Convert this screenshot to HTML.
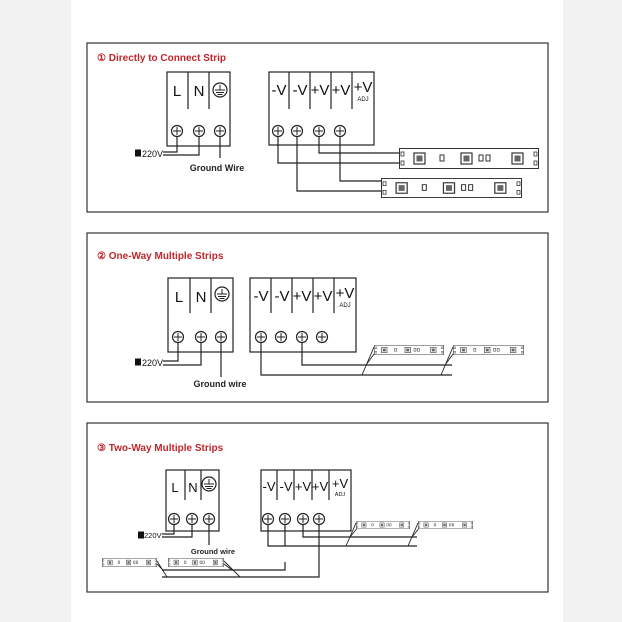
<!DOCTYPE html>
<html><head><meta charset="utf-8"><style>
html,body{margin:0;padding:0;background:#f2f2f2;}
svg{display:block;}
text{font-family:"Liberation Sans",sans-serif;}
</style></head><body>
<svg width="622" height="622" viewBox="0 0 622 622" xmlns="http://www.w3.org/2000/svg">
<defs>
<symbol id="strip" viewBox="0 0 140 21" preserveAspectRatio="none">
<rect x="0.5" y="0.5" width="139" height="20" fill="#fff" stroke="#333" stroke-width="1"/>
<rect x="2" y="4" width="3" height="4" fill="none" stroke="#333" stroke-width="0.8"/>
<rect x="2" y="13" width="3" height="4" fill="none" stroke="#333" stroke-width="0.8"/>
<rect x="15" y="5" width="11" height="11" fill="none" stroke="#333" stroke-width="1.2"/>
<rect x="17.5" y="7.5" width="6" height="6" fill="#666"/>
<rect x="41" y="7" width="4" height="6" fill="none" stroke="#333" stroke-width="1"/>
<rect x="62" y="5" width="11" height="11" fill="none" stroke="#333" stroke-width="1.2"/>
<rect x="64.5" y="7.5" width="6" height="6" fill="#666"/>
<rect x="80" y="7" width="4" height="6" fill="none" stroke="#333" stroke-width="1"/>
<rect x="87" y="7" width="4" height="6" fill="none" stroke="#333" stroke-width="1"/>
<rect x="113" y="5" width="11" height="11" fill="none" stroke="#333" stroke-width="1.2"/>
<rect x="115.5" y="7.5" width="6" height="6" fill="#666"/>
<rect x="135" y="4" width="3" height="4" fill="none" stroke="#333" stroke-width="0.8"/>
<rect x="135" y="13" width="3" height="4" fill="none" stroke="#333" stroke-width="0.8"/>
</symbol>
<g id="gnd"><circle cx="0" cy="0" r="7" fill="#fff" stroke="#222" stroke-width="1.2"/><line x1="-5" y1="0" x2="5" y2="0" stroke="#222"/><line x1="-4" y1="2.5" x2="4" y2="2.5" stroke="#222"/><line x1="-2.5" y1="4.5" x2="2.5" y2="4.5" stroke="#222"/><line x1="0" y1="-5" x2="0" y2="0" stroke="#222"/></g>
<g id="term"><circle cx="0" cy="0" r="5.5" fill="#fff" stroke="#222" stroke-width="1.2"/><line x1="-4" y1="0" x2="4" y2="0" stroke="#222"/><line x1="0" y1="-4" x2="0" y2="4" stroke="#222"/></g>
<g id="sq"><rect x="-3" y="-3.5" width="6" height="7" fill="#111"/></g>
</defs>
<rect x="71" y="0" width="492" height="622" fill="#fff"/>
<g fill="none" stroke="#333" stroke-width="1.2">
<rect x="87" y="43" width="461" height="169"/>
<rect x="87" y="233" width="461" height="169"/>
<rect x="87" y="423" width="461" height="169"/>
</g>
<g font-weight="bold" font-size="10" fill="#c0272d">
<text x="97" y="61">① Directly to Connect Strip</text>
<text x="97" y="259">② One-Way Multiple Strips</text>
<text x="97" y="451">③ Two-Way Multiple Strips</text>
</g>

<!-- PANEL 1 -->
<g stroke="#222" stroke-width="1.2" fill="none">
<rect x="167" y="72" width="63" height="74"/>
<line x1="188" y1="72" x2="188" y2="109"/><line x1="209" y1="72" x2="209" y2="109"/>
<rect x="269" y="72" width="105" height="73"/>
<line x1="289" y1="72" x2="289" y2="109"/><line x1="310" y1="72" x2="310" y2="109"/><line x1="331" y1="72" x2="331" y2="109"/><line x1="352" y1="72" x2="352" y2="109"/>
<polyline points="177,131 177,152 163,152"/><polyline points="199,131 199,155 163,155"/>
<line x1="220" y1="131" x2="220" y2="158"/>
<polyline points="278,131 278,163 399,163"/><polyline points="319,131 319,153 399,153"/>
<polyline points="297,131 297,191 381,191"/><polyline points="340,131 340,181 381,181"/>
</g>
<g font-size="15" fill="#111" text-anchor="middle">
<text x="177" y="96">L</text><text x="199" y="96">N</text>
<text x="279" y="95">-V</text><text x="300" y="95">-V</text><text x="320" y="95">+V</text><text x="341" y="95">+V</text><text x="363" y="92">+V</text>
</g>
<text x="363" y="101" font-size="6" text-anchor="middle" fill="#111">ADJ</text>
<use href="#gnd" x="220" y="90"/>
<use href="#term" x="177" y="131"/><use href="#term" x="199" y="131"/><use href="#term" x="220" y="131"/>
<use href="#term" x="278" y="131"/><use href="#term" x="297" y="131"/><use href="#term" x="319" y="131"/><use href="#term" x="340" y="131"/>
<use href="#sq" x="138" y="153"/>
<text x="142" y="157" font-size="9" fill="#111">220V</text>
<text x="217" y="171" font-size="9" font-weight="bold" text-anchor="middle" fill="#222">Ground Wire</text>
<use href="#strip" x="399" y="148" width="140" height="21"/>
<use href="#strip" x="381" y="178" width="141" height="20"/>

<!-- PANEL 2 -->
<g stroke="#222" stroke-width="1.2" fill="none">
<rect x="168" y="278" width="65" height="74"/>
<line x1="190" y1="278" x2="190" y2="313"/><line x1="211" y1="278" x2="211" y2="313"/>
<rect x="250" y="278" width="106" height="74"/>
<line x1="271" y1="278" x2="271" y2="313"/><line x1="292" y1="278" x2="292" y2="313"/><line x1="313" y1="278" x2="313" y2="313"/><line x1="334" y1="278" x2="334" y2="313"/>
<polyline points="178,337 178,361 163,361"/><polyline points="201,337 201,365 163,365"/>
<line x1="221" y1="337" x2="221" y2="377"/>
<polyline points="261,337 261,375 452,375"/><polyline points="302,337 302,365 452,365"/>
<line x1="374" y1="347" x2="362" y2="375" stroke-width="0.9"/><line x1="377" y1="350" x2="366" y2="365" stroke-width="0.9"/>
<line x1="453" y1="347" x2="441" y2="375" stroke-width="0.9"/><line x1="456" y1="350" x2="445" y2="365" stroke-width="0.9"/>
</g>
<g font-size="15" fill="#111" text-anchor="middle">
<text x="179" y="302">L</text><text x="201" y="302">N</text>
<text x="261" y="301">-V</text><text x="282" y="301">-V</text><text x="302" y="301">+V</text><text x="323" y="301">+V</text><text x="345" y="298">+V</text>
</g>
<text x="345" y="307" font-size="6" text-anchor="middle" fill="#111">ADJ</text>
<use href="#gnd" x="222" y="294"/>
<use href="#term" x="178" y="337"/><use href="#term" x="201" y="337"/><use href="#term" x="221" y="337"/>
<use href="#term" x="261" y="337"/><use href="#term" x="281" y="337"/><use href="#term" x="302" y="337"/><use href="#term" x="322" y="337"/>
<use href="#sq" x="138" y="362"/>
<text x="142" y="366" font-size="9" fill="#111">220V</text>
<text x="220" y="387" font-size="9" font-weight="bold" text-anchor="middle" fill="#222">Ground wire</text>
<use href="#strip" x="374" y="345" width="70" height="10"/>
<use href="#strip" x="453" y="345" width="71" height="10"/>

<!-- PANEL 3 -->
<g stroke="#222" stroke-width="1.2" fill="none">
<rect x="166" y="470" width="53" height="61"/>
<line x1="185" y1="470" x2="185" y2="500"/><line x1="201" y1="470" x2="201" y2="500"/>
<rect x="261" y="470" width="90" height="61"/>
<line x1="277" y1="470" x2="277" y2="500"/><line x1="294" y1="470" x2="294" y2="500"/><line x1="312" y1="470" x2="312" y2="500"/><line x1="329" y1="470" x2="329" y2="500"/>
<polyline points="174,519 174,534 162,534"/><polyline points="192,519 192,537 162,537"/>
<line x1="209" y1="519" x2="209" y2="545"/>
<polyline points="268,519 268,546 417,546"/><polyline points="303,519 303,537 417,537"/>
<line x1="285" y1="519" x2="285" y2="546"/>
<polyline points="285,562 285,570 162,570"/>
<polyline points="319,519 319,577 162,577"/>
<line x1="356" y1="523" x2="346" y2="546" stroke-width="0.9"/><line x1="359" y1="526" x2="350" y2="537" stroke-width="0.9"/>
<line x1="418" y1="523" x2="408" y2="546" stroke-width="0.9"/><line x1="421" y1="526" x2="412" y2="537" stroke-width="0.9"/>
<line x1="157" y1="561" x2="167" y2="577" stroke-width="0.9"/><line x1="157" y1="564" x2="163" y2="570" stroke-width="0.9"/>
<line x1="224" y1="561" x2="240" y2="577" stroke-width="0.9"/><line x1="224" y1="564" x2="232" y2="570" stroke-width="0.9"/>
</g>
<g font-size="13" fill="#111" text-anchor="middle">
<text x="175" y="492">L</text><text x="193" y="492">N</text>
<text x="269" y="491">-V</text><text x="286" y="491">-V</text><text x="303" y="491">+V</text><text x="320" y="491">+V</text><text x="340" y="488">+V</text>
</g>
<text x="340" y="496" font-size="5.5" text-anchor="middle" fill="#111">ADJ</text>
<use href="#gnd" x="209" y="484"/>
<use href="#term" x="174" y="519"/><use href="#term" x="192" y="519"/><use href="#term" x="209" y="519"/>
<use href="#term" x="268" y="519"/><use href="#term" x="285" y="519"/><use href="#term" x="303" y="519"/><use href="#term" x="319" y="519"/>
<use href="#sq" x="141" y="535"/>
<text x="144" y="538" font-size="7.5" fill="#111">220V</text>
<text x="213" y="554" font-size="7.5" font-weight="bold" text-anchor="middle" fill="#222">Ground wire</text>
<use href="#strip" x="356" y="521" width="54" height="8"/>
<use href="#strip" x="418" y="521" width="55" height="8"/>
<use href="#strip" x="102" y="558" width="55" height="9"/>
<use href="#strip" x="168" y="558" width="56" height="9"/>
</svg>
</body></html>
